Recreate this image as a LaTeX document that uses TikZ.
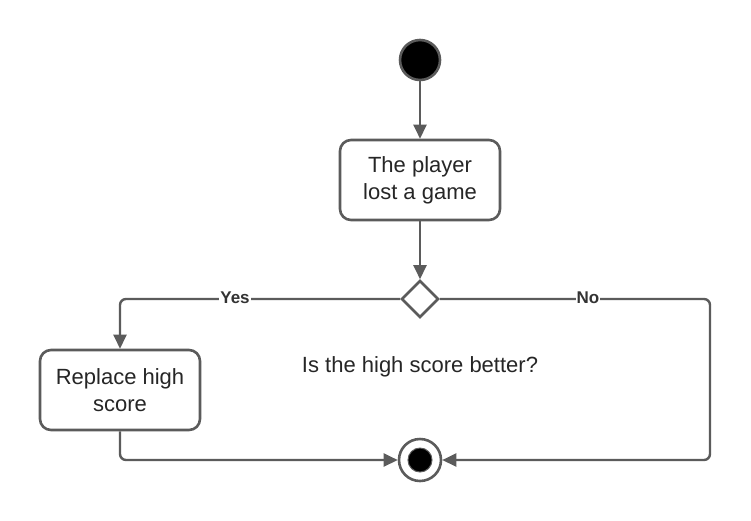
\documentclass[tikz,border=0pt]{standalone}
\usepackage{fontspec}
\setmainfont{Liberation Sans}
\usetikzlibrary{arrows.meta,shapes.geometric}
\definecolor{ln}{HTML}{5B5B5B}
\tikzset{
  every picture/.style={x=1pt,y=-1pt},
  conn/.style={draw=ln,line width=2.4pt,rounded corners=6pt,-{Triangle[length=14pt,width=13pt]}},
  actbox/.style={draw=ln,line width=2.6pt,rounded corners=11pt,fill=white,minimum width=160pt,minimum height=80pt,align=center,font=\fontsize{22}{27}\selectfont,text=black!85},
  lbl/.style={font=\bfseries\fontsize{17}{18}\selectfont,fill=white,inner sep=1pt,text=black!80}
}
\begin{document}
\begin{tikzpicture}
\useasboundingbox (0,0) rectangle (751,520);
\node[circle,draw=ln,line width=2.6pt,fill=black,minimum size=40pt,inner sep=0] (start) at (420,60) {};
\node[actbox] (lost) at (420,180) {The player\\lost a game};
\node[diamond,draw=ln,line width=2.6pt,fill=white,minimum size=37pt,inner sep=0] (dec) at (420,299) {};
\node[actbox] (repl) at (120,390) {Replace high\\score};
\node[circle,draw=ln,line width=2.6pt,fill=white,minimum size=42pt,inner sep=0] (end) at (420,460) {};
\node[circle,fill=black,draw=ln,line width=1pt,minimum size=24pt,inner sep=0] (endin) at (420,460) {};
\node[font=\fontsize{22}{26}\selectfont,text=black!85] (q) at (420,367) {Is the high score better?};
\coordinate (yc) at (120,299);
\coordinate (nc) at (710,299);
\coordinate (nd) at (710,460);
\coordinate (rb) at (120,460);
\draw[conn] (start) -- (lost);
\draw[conn] (lost) -- (dec);
\draw[conn] (dec.west) -- (yc) -- (repl.north);
\draw[conn] (dec.east) -- (nc) -- (nd) -- (end.east);
\draw[conn] (repl.south) -- (rb) -- (end.west);
\node[lbl] (yes) at (235,298) {Yes};
\node[lbl] (no) at (588,298) {No};
\end{tikzpicture}
\end{document}
